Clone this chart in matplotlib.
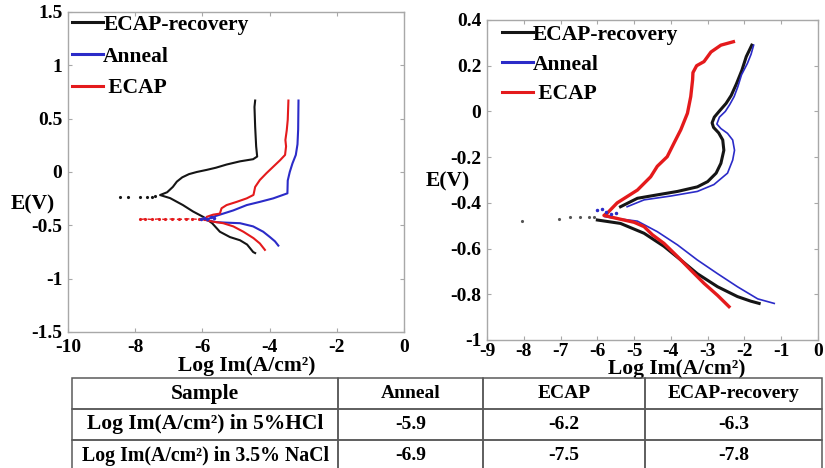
"""Polarisation curves (5% HCl / 3.5% NaCl) + Log Im summary table"""
import matplotlib as mpl
mpl.use('Agg')
import matplotlib.pyplot as plt
import numpy as np
from matplotlib.lines import Line2D
from matplotlib.ticker import FormatStrFormatter

mpl.rcParams.update({
    'font.family': 'serif',
    'font.serif': ['Liberation Serif', 'DejaVu Serif'],
    'font.weight': 'bold',
    'axes.labelweight': 'bold',
    'axes.unicode_minus': False,
    'axes.edgecolor': '#a8a8a8',
    'axes.linewidth': 1.0,
    'xtick.direction': 'in',
    'ytick.direction': 'in',
    'xtick.color': '#a8a8a8',
    'ytick.color': '#a8a8a8',
    'xtick.labelcolor': 'black',
    'ytick.labelcolor': 'black',
    'xtick.major.size': 3,
    'ytick.major.size': 3,
    'xtick.labelsize': 14,
    'ytick.labelsize': 14,
})

PALETTE = {
    'recovery': '#151515',
    'anneal': '#2b2bc8',
    'ecap': '#e41a1c',
}

# ── left panel: 5% HCl (x = Log Im, y = E) ──
hcl_recovery_x = [-4.43, -4.49, -4.67, -4.88, -5.18, -5.48, -5.71, -5.98, -6.28, -6.58, -6.96, -7.26,
                  -7.05, -6.88, -6.76, -6.60, -6.40, -6.17, -5.87, -5.60, -5.28, -4.88, -4.49, -4.37,
                  -4.40, -4.43, -4.45, -4.43]
hcl_recovery_y = [-0.76, -0.75, -0.68, -0.64, -0.61, -0.56, -0.48, -0.42, -0.37, -0.31, -0.245, -0.216,
                  -0.19, -0.14, -0.09, -0.05, -0.02, 0.00, 0.02, 0.04, 0.07, 0.10, 0.12, 0.145,
                  0.24, 0.425, 0.61, 0.67]
hcl_anneal_x = [-3.74, -3.84, -3.99, -4.19, -4.49, -4.88, -5.28, -5.58, -5.90,
                -5.68, -5.38, -5.08, -4.68, -4.29, -3.89, -3.47, -3.46, -3.40, -3.32, -3.22,
                -3.17, -3.15, -3.14]
hcl_anneal_y = [-0.69, -0.65, -0.61, -0.56, -0.51, -0.48, -0.475, -0.47, -0.45,
                -0.42, -0.39, -0.36, -0.31, -0.28, -0.247, -0.20, -0.08, 0.00, 0.08, 0.16,
                0.26, 0.40, 0.67]
hcl_ecap_x = [-4.14, -4.29, -4.48, -4.78, -5.08, -5.38, -5.68, -5.90,
              -5.87, -5.68, -5.48, -5.43, -5.28, -4.98, -4.68, -4.48, -4.43, -4.29, -4.09,
              -3.89, -3.69, -3.54, -3.51, -3.53, -3.49, -3.46, -3.44]
hcl_ecap_y = [-0.73, -0.67, -0.62, -0.56, -0.51, -0.48, -0.466, -0.45,
              -0.42, -0.40, -0.39, -0.34, -0.31, -0.28, -0.247, -0.215, -0.14, -0.075, -0.01,
              0.05, 0.11, 0.16, 0.24, 0.30, 0.39, 0.49, 0.67]
# scattered points around the corrosion potential
hcl_recovery_dots_x = [-8.45, -8.20, -7.85, -7.66, -7.51, -7.41]
hcl_recovery_dots_y = [-0.23, -0.23, -0.235, -0.23, -0.23, -0.225]
hcl_ecap_dots_x = [-7.85, -7.70, -7.50, -7.30, -7.10, -6.90, -6.70, -6.50, -6.30, -6.10, -5.95]
hcl_ecap_dots_y = [-0.445, -0.44, -0.445, -0.44, -0.445, -0.44, -0.445, -0.44, -0.44, -0.445, -0.44]
hcl_anneal_dots_x = [-6.05, -5.95, -5.85, -5.75, -5.65]
hcl_anneal_dots_y = [-0.44, -0.43, -0.445, -0.42, -0.43]

# ── right panel: 3.5% NaCl ──
nacl_recovery_x = [-1.60, -1.83, -2.19, -2.73, -3.28, -3.73, -4.19, -4.73, -5.37, -6.00, np.nan,
                   -5.37, -4.91, -4.37, -3.82, -3.28, -3.00, -2.77, -2.64, -2.56, -2.59, -2.70,
                   -2.84, -2.88, -2.82, -2.69, -2.50, -2.36, -2.22, -2.07, -1.95, -1.80]
nacl_recovery_y = [-0.84, -0.83, -0.81, -0.767, -0.71, -0.65, -0.59, -0.533, -0.49, -0.475, np.nan,
                   -0.417, -0.38, -0.365, -0.35, -0.33, -0.307, -0.27, -0.227, -0.17, -0.125, -0.094,
                   -0.07, -0.05, -0.025, 0.00, 0.035, 0.07, 0.12, 0.18, 0.24, 0.29]
nacl_anneal_x = [-1.19, -1.64, -2.19, -2.73, -3.28, -3.82, -4.37, -4.91, -5.55, -5.80, np.nan,
                 -5.19, -4.73, -4.00, -3.28, -2.83, -2.46, -2.32, -2.27, -2.32, -2.46, -2.64,
                 -2.75, -2.68, -2.52, -2.40, -2.28, -2.18, -2.08, -1.92, -1.82, -1.75]
nacl_anneal_y = [-0.84, -0.82, -0.767, -0.71, -0.65, -0.584, -0.526, -0.48, -0.467, -0.46, np.nan,
                 -0.417, -0.387, -0.37, -0.35, -0.32, -0.27, -0.213, -0.17, -0.125, -0.096, -0.075,
                 -0.055, -0.025, 0.00, 0.03, 0.065, 0.108, 0.16, 0.21, 0.25, 0.29]
nacl_ecap_x = [-2.42, -2.73, -3.10, -3.46, -3.82, -4.19, -4.50, -4.73, -5.00, -5.28, -5.82,
               -5.73, -5.46, -4.91, -4.55, -4.37, -4.10, -3.92, -3.73, -3.55, -3.46, -3.41,
               -3.40, -3.30, -3.10, -2.91, -2.64, -2.30]
nacl_ecap_y = [-0.854, -0.805, -0.752, -0.694, -0.635, -0.577, -0.54, -0.504, -0.485, -0.475, -0.455,
               -0.445, -0.40, -0.344, -0.286, -0.24, -0.198, -0.14, -0.08, -0.008, 0.065, 0.138,
               0.17, 0.20, 0.218, 0.26, 0.29, 0.305]
nacl_recovery_dots_x = [-8.05, -7.05, -6.73, -6.46, -6.23, -6.09]
nacl_recovery_dots_y = [-0.478, -0.47, -0.463, -0.46, -0.463, -0.46]
nacl_anneal_dots_x = [-6.00, -5.88, -5.76, -5.62, -5.50]
nacl_anneal_dots_y = [-0.43, -0.425, -0.44, -0.45, -0.445]

# ── table ──
TABLE_COLS = ['Sample', 'Anneal', 'ECAP', 'ECAP-recovery']
TABLE_ROWS = ['Log Im(A/cm\u00b2) in 5%HCl', 'Log Im(A/cm\u00b2) in 3.5% NaCl']
LOG_IM_HCL = [-5.9, -6.2, -6.3]
LOG_IM_NACL = [-6.9, -7.5, -7.8]

XLABEL = 'Log Im(A/cm\u00b2)'
YLABEL = 'E(V)'
LEGEND_LABELS = ['ECAP-recovery', 'Anneal', ' ECAP']


def style_axes(ax):
    ax.tick_params(which='both', top=True, right=True, width=0.8)
    ax.xaxis.set_major_formatter(FormatStrFormatter('%g'))
    ax.yaxis.set_major_formatter(FormatStrFormatter('%g'))


def add_legend(ax, lw, anchor, spacing):
    handles = [Line2D([], [], color=PALETTE[k], lw=lw) for k in ('recovery', 'anneal', 'ecap')]
    ax.legend(handles, LEGEND_LABELS, loc='upper left', bbox_to_anchor=anchor,
              frameon=False, fontsize=15.5, handlelength=1.45, handletextpad=0.0,
              labelspacing=spacing, borderpad=0, borderaxespad=0)


fig = plt.figure(figsize=(8.25, 4.68), dpi=100)

# Panel A: HCl
ax1 = fig.add_axes([68 / 825, 1 - 332 / 468, 336 / 825, 320 / 468])
ax1.plot(hcl_recovery_x, hcl_recovery_y, color=PALETTE['recovery'], lw=1.5)
ax1.plot(hcl_anneal_x, hcl_anneal_y, color=PALETTE['anneal'], lw=1.5)
ax1.plot(hcl_ecap_x, hcl_ecap_y, color=PALETTE['ecap'], lw=1.5)
ax1.plot(hcl_recovery_dots_x, hcl_recovery_dots_y, ls='none', marker='.', ms=2.5,
         color=PALETTE['recovery'])
ax1.plot(hcl_ecap_dots_x, hcl_ecap_dots_y, ls='--', lw=1.0, marker='.', ms=2.5,
         color=PALETTE['ecap'])
ax1.plot(hcl_anneal_dots_x, hcl_anneal_dots_y, ls='none', marker='.', ms=3,
         color=PALETTE['anneal'])
ax1.set_xlim(-10, 0)
ax1.set_ylim(-1.5, 1.5)
ax1.set_xticks(np.arange(-10, 1, 2))
ax1.set_yticks([-1.5, -1, -0.5, 0, 0.5, 1, 1.5])
style_axes(ax1)
ax1.tick_params(axis='x', pad=5)
ax1.tick_params(axis='y', pad=4)
ax1.set_xlabel(XLABEL, fontsize=15.5)
ax1.xaxis.set_label_coords(0.533, -0.075)
ax1.set_ylabel(YLABEL, fontsize=15.5, rotation=0, ha='center', va='center')
ax1.yaxis.set_label_coords(-0.104, 0.40)
add_legend(ax1, 2.2, (0.012, 0.992), 0.55)

# Panel B: NaCl
ax2 = fig.add_axes([487 / 825, 1 - 340 / 468, 331 / 825, 320 / 468])
ax2.plot(nacl_recovery_x, nacl_recovery_y, color=PALETTE['recovery'], lw=2.2)
ax2.plot(nacl_anneal_x, nacl_anneal_y, color=PALETTE['anneal'], lw=1.2)
ax2.plot(nacl_ecap_x, nacl_ecap_y, color=PALETTE['ecap'], lw=2.4)
ax2.plot(nacl_recovery_dots_x, nacl_recovery_dots_y, ls='none', marker='.', ms=2.5,
         color='#555555')
ax2.plot(nacl_anneal_dots_x, nacl_anneal_dots_y, ls='none', marker='.', ms=3,
         color=PALETTE['anneal'])
ax2.set_xlim(-9, 0)
ax2.set_ylim(-1, 0.4)
ax2.set_xticks(np.arange(-9, 1, 1))
ax2.set_yticks([-1, -0.8, -0.6, -0.4, -0.2, 0, 0.2, 0.4])
style_axes(ax2)
ax2.tick_params(axis='x', pad=2)
ax2.tick_params(axis='y', pad=4)
ax2.set_xlabel(XLABEL, fontsize=15.5)
ax2.xaxis.set_label_coords(0.574, -0.058)
ax2.set_ylabel(YLABEL, fontsize=15.5, rotation=0, ha='center', va='center')
ax2.yaxis.set_label_coords(-0.118, 0.494)
add_legend(ax2, 2.2, (0.045, 0.985), 0.45)

# Table (bottom edge falls just outside the picture, like the reference)
tax = fig.add_axes([72 / 825, -3 / 468, 750 / 825, 93 / 468])
tax.axis('off')
cells = [[TABLE_ROWS[0]] + [f'{v:g}' for v in LOG_IM_HCL],
         [TABLE_ROWS[1]] + [f'{v:g}' for v in LOG_IM_NACL]]
tbl = tax.table(cellText=cells, colLabels=TABLE_COLS, cellLoc='center',
                colWidths=[266, 145, 162, 177], bbox=[0, 0, 1, 1])
tbl.auto_set_font_size(False)
first_col_sizes = {0: 15.5, 1: 15.5, 2: 14.3}
for (r, c), cell in tbl.get_celld().items():
    cell.set_edgecolor('#5a5a5a')
    cell.set_linewidth(1.1)
    cell.set_facecolor('none')
    cell.get_text().set_fontsize(first_col_sizes[r] if c == 0 else 14)
    cell.get_text().set_fontweight('bold')

fig.savefig('out.png', dpi=100)
